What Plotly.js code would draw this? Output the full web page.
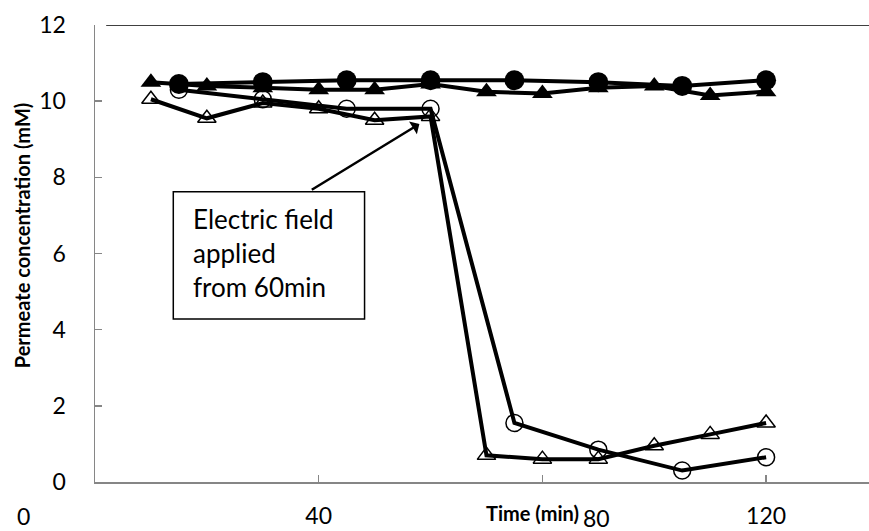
<!DOCTYPE html>
<html>
<head>
<meta charset="utf-8">
<script src="https://cdn.plot.ly/plotly-3.0.1.min.js"></script>
<style>html,body{margin:0;padding:0;background:#fff;}#chart{width:869px;height:531px;}</style>
</head>
<body>
<div id="chart"></div>
<script>
// Time points (min)
const timeA = [15, 30, 45, 60, 75, 90, 105, 120];
const timeB = [10, 20, 30, 40, 50, 60, 70, 80, 90, 100, 110, 120];
// Permeate concentration (mM)
const concFilledCircle = [10.45, 10.5, 10.55, 10.55, 10.55, 10.5, 10.4, 10.55];
const concTriangle = [10.5, 10.4, 10.35, 10.3, 10.3, 10.45, 10.25, 10.2, 10.35, 10.4, 10.15, 10.25];
const concOpenCircle = [10.3, 10.05, 9.8, 9.8, 1.55, 0.85, 0.3, 0.65];
const concOpenTri = [10.05, 9.55, 9.95, 9.8, 9.5, 9.6, 0.7, 0.6, 0.6, 0.95, 1.25, 1.55];
// Axis ticks
const xTickVals = [0, 40, 80, 120];
const xTickText = ['', '40', '', '120'];
const yTickVals = [0, 2, 4, 6, 8, 10, 12];

const FONT = 'Lato, "Open Sans", sans-serif';
const TICKSIZE = 23;

const traces = [
  {x: timeB, y: concOpenTri, mode: 'lines+markers', line: {color: '#000', width: 4},
   marker: {symbol: 'triangle-up-open', size: 16, color: '#000', line: {width: 1.5, color: '#000'}}},
  {x: timeA, y: concOpenCircle, mode: 'lines+markers', line: {color: '#000', width: 4},
   marker: {symbol: 'circle-open', size: 17, color: '#000', line: {width: 1.5, color: '#000'}}},
  {x: timeB, y: concTriangle, mode: 'lines+markers', line: {color: '#000', width: 4},
   marker: {symbol: 'triangle-up', size: 18, color: '#000'}},
  {x: timeA, y: concFilledCircle, mode: 'lines+markers', line: {color: '#000', width: 4},
   marker: {symbol: 'circle', size: 20, color: '#000'}}
];

const layout = {
  width: 869, height: 531,
  margin: {l: 95, r: 0, t: 25, b: 49},
  paper_bgcolor: '#fff', plot_bgcolor: '#fff',
  showlegend: false,
  font: {family: FONT, color: '#000', size: TICKSIZE},
  xaxis: {
    range: [0, 138.4], tickvals: xTickVals, ticktext: xTickText,
    showgrid: false, zeroline: false, showline: true, linecolor: '#868686', linewidth: 1.5,
    ticks: 'inside', ticklen: 7, tickcolor: '#868686', tickwidth: 1.5,
    ticklabelstandoff: 13, tickfont: {family: FONT, size: TICKSIZE, color: '#000'}
  },
  yaxis: {
    range: [0, 12], tickvals: yTickVals,
    showgrid: false, zeroline: false, showline: true, linecolor: '#868686', linewidth: 1.5,
    ticks: 'inside', ticklen: 7, tickcolor: '#868686', tickwidth: 1.5,
    ticklabelstandoff: 23, tickfont: {family: FONT, size: TICKSIZE, color: '#000'}
  },
  shapes: [
    {type: 'line', xref: 'x', yref: 'y', x0: 2, x1: 140, y0: 12, y1: 12, line: {color: '#000', width: 1.5}},
    {type: 'rect', xref: 'x', yref: 'y', x0: 14, x1: 48.2, y0: 4.28, y1: 7.62,
     line: {color: '#000', width: 1.5}, fillcolor: '#fff', layer: 'above'}
  ],
  annotations: [
    {xref: 'x', yref: 'y', x: 17.2, y: 7.38, xanchor: 'left', yanchor: 'top', align: 'left',
     text: 'Electric field<br>applied<br>from 60min', showarrow: false,
     font: {family: FONT, size: 26, color: '#000'}},
    {xref: 'x', yref: 'y', axref: 'x', ayref: 'y', x: 58, y: 9.4, ax: 38.5, ay: 7.65,
     showarrow: true, arrowhead: 1, arrowsize: 1, arrowwidth: 2.5, arrowcolor: '#000', text: ''},
    {xref: 'paper', yref: 'paper', x: -0.093, y: 0, xanchor: 'center', yanchor: 'top', yshift: -18,
     text: '0', showarrow: false, font: {family: FONT, size: TICKSIZE, color: '#000'}},
    {xref: 'x', yref: 'paper', x: 89.6, y: 0, xanchor: 'center', yanchor: 'top', yshift: -20,
     text: '80', showarrow: false, font: {family: FONT, size: TICKSIZE, color: '#000'}},
    {xref: 'x', yref: 'paper', x: 78.2, y: 0, xanchor: 'center', yanchor: 'top', yshift: -17,
     text: '<b>Time (min)</b>', showarrow: false, font: {family: FONT, size: 20, color: '#000'}},
    {xref: 'paper', yref: 'paper', x: 0, y: 0.54, xanchor: 'center', yanchor: 'middle', xshift: -73,
     text: '<b>Permeate concentration (mM)</b>', textangle: -90, showarrow: false,
     font: {family: FONT, size: 20, color: '#000'}}
  ]
};

Plotly.newPlot('chart', traces, layout, {staticPlot: true, displayModeBar: false});
</script>
</body>
</html>
